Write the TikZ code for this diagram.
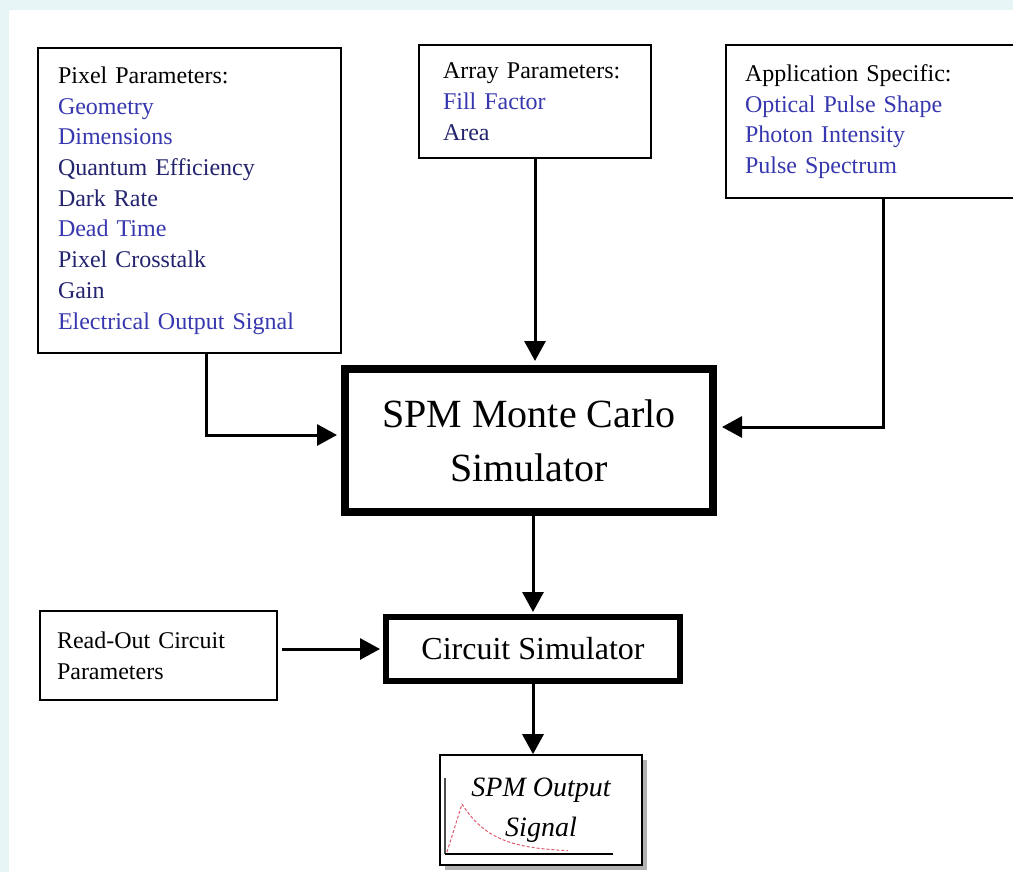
\documentclass[tikz,border=0pt]{standalone}
\usepackage{fontspec}
\setmainfont{Liberation Serif}
\usetikzlibrary{calc,shadows,arrows.meta,positioning}

\definecolor{bgcyan}{RGB}{231,244,246}
\definecolor{parblue}{RGB}{55,55,175}
\definecolor{parnavy}{RGB}{35,35,110}
\definecolor{sigred}{RGB}{220,90,110}

\tikzset{
  parbox/.style={draw,line width=1.6pt,fill=white,align=left,inner ysep=0pt,
    font=\fontsize{24}{30.7}\selectfont},
  simbox/.style={draw,fill=white,align=center,inner sep=0pt},
  conn/.style={line width=3pt,-{Triangle[length=20pt,width=21pt]}},
}

\begin{document}
\begin{tikzpicture}[x=1pt,y=-1pt]
\clip (0,0) rectangle (1013,872);
\fill[bgcyan] (0,0) rectangle (1013,872);
\fill[white] (9,10) rectangle (1013,872);

\node[parbox,inner xsep=20pt,text width=263pt,minimum height=305pt] (pix) at (189.5,200.5)
  {Pixel Parameters:\\ \textcolor{parblue}{Geometry}\\ \textcolor{parblue}{Dimensions}\\
   \textcolor{parnavy}{Quantum Efficiency}\\ \textcolor{parnavy}{Dark Rate}\\
   \textcolor{parblue}{Dead Time}\\ \textcolor{parnavy}{Pixel Crosstalk}\\
   \textcolor{parnavy}{Gain}\\ \textcolor{parblue}{Electrical Output Signal}};
\node[parbox,inner xsep=24pt,text width=184pt,minimum height=113pt] (arr) at (535,101.5)
  {Array Parameters:\\ \textcolor{parblue}{Fill Factor}\\ \textcolor{parnavy}{Area}};
\node[parbox,inner xsep=19pt,text width=266pt,minimum height=153pt] (app) at (878,121.5)
  {Application Specific:\\ \textcolor{parblue}{Optical Pulse Shape}\\
   \textcolor{parblue}{Photon Intensity}\\ \textcolor{parblue}{Pulse Spectrum}};

\node[simbox,line width=8pt,minimum width=368pt,minimum height=143pt,
  font=\fontsize{40}{54}\selectfont] (mc) at (529,440.5) {SPM Monte Carlo\\Simulator};
\node[simbox,line width=6pt,minimum width=294pt,minimum height=64pt,
  font=\fontsize{32}{38}\selectfont] (cs) at (533,649) {Circuit Simulator};
\node[parbox,inner xsep=17pt,text width=203pt,minimum height=89pt] (ro) at (158.5,655.5)
  {Read-Out Circuit\\Parameters};
\node[simbox,line width=1.6pt,minimum width=202pt,minimum height=110pt,
  drop shadow={shadow xshift=5pt,shadow yshift=-5pt,fill=gray!60,opacity=1},
  font=\itshape\fontsize{28}{40}\selectfont] (out) at (541,810) {SPM Output\\Signal};

\draw[line width=1.2pt,gray!60!black] (445,778) -- (445,854);
\draw[line width=1.8pt] (445,854) -- (613,854);
\draw[sigred,line width=1pt,densely dashed] (447,852) -- (462,804)
  plot[domain=0:106,smooth,samples=30] ({462+\x},{852-48*exp(-\x/30)});

\draw[conn,shorten >=4pt] ([xshift=16.5pt]pix.south) |- ([yshift=5.5pt]mc.west);
\draw[conn,shorten >=4pt] (arr.south) -- (arr.south |- mc.north);
\draw[conn,shorten >=5pt] ([xshift=5pt]app.south) |- ([yshift=13.5pt]mc.east);
\draw[conn,shorten >=2pt] (mc.south -| cs.north) -- (cs.north);
\draw[conn,shorten <=4pt,shorten >=3pt] (ro.east |- cs.west) -- (cs.west);
\draw[conn] (cs.south) -- (cs.south |- out.north);
\end{tikzpicture}
\end{document}
